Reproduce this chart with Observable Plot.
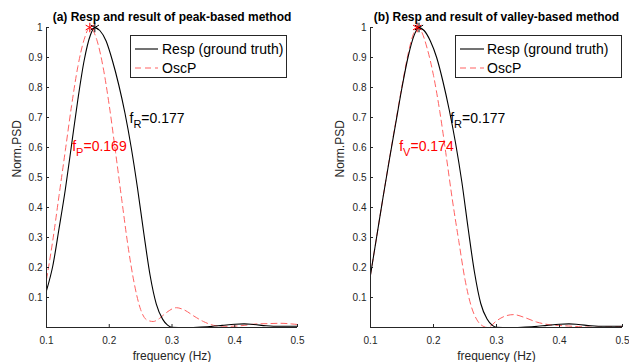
<!DOCTYPE html>
<html><head><meta charset="utf-8">
<script src="https://cdn.jsdelivr.net/npm/d3@7"></script>
<script src="https://cdn.jsdelivr.net/npm/@observablehq/plot@0.6"></script>
<style>
body{margin:0;background:#fff;}
#wrap{position:relative;width:629px;height:362px;overflow:hidden;font-family:"Liberation Sans",Arial,sans-serif;background:#fff;}
.panel{position:absolute;top:0;}
.legend{position:absolute;}
</style></head>
<body><div id="wrap"></div>
<script>
// ---------- data ----------
const titles = ["(a) Resp and result of peak-based method", "(b) Resp and result of valley-based method"];
const seriesNames = ["Resp (ground truth)", "OscP"];
const xLabel = "frequency (Hz)";
const yLabel = "Norm.PSD";
const xTicks = [0.1, 0.2, 0.3, 0.4, 0.5];
const yTicks = [0.1, 0.2, 0.3, 0.4, 0.5, 0.6, 0.7, 0.8, 0.9, 1];
const xDomain = [0.1, 0.5];
const yDomain = [0, 1];

// panel (a)
const freqRespA = [0.100,0.110,0.120,0.130,0.140,0.150,0.160,0.170,0.177,0.185,0.195,0.205,0.215,0.225,0.235,0.245,0.255,0.265,0.275,0.285,0.293,0.300,0.320,0.340,0.360,0.380,0.400,0.415,0.430,0.450,0.470,0.500];
const respA     = [0.123,0.205,0.330,0.460,0.610,0.760,0.890,0.975,1.000,0.990,0.955,0.890,0.810,0.715,0.600,0.465,0.315,0.175,0.078,0.028,0.008,0.001,0.000,0.001,0.003,0.007,0.011,0.012,0.010,0.006,0.004,0.004];
const freqOscA  = [0.100,0.110,0.120,0.130,0.140,0.150,0.160,0.169,0.180,0.190,0.200,0.210,0.220,0.230,0.240,0.250,0.260,0.270,0.280,0.290,0.307,0.320,0.335,0.350,0.370,0.390,0.410,0.436,0.455,0.473,0.490,0.500];
const oscA      = [0.160,0.290,0.440,0.590,0.740,0.870,0.960,1.000,0.960,0.870,0.740,0.585,0.425,0.270,0.145,0.060,0.025,0.020,0.030,0.048,0.066,0.058,0.038,0.020,0.006,0.004,0.006,0.012,0.013,0.014,0.012,0.010];

// panel (b)
const freqRespB = [0.100,0.110,0.120,0.130,0.140,0.150,0.160,0.170,0.177,0.185,0.195,0.205,0.215,0.225,0.235,0.245,0.255,0.265,0.275,0.285,0.293,0.300,0.320,0.340,0.360,0.380,0.400,0.415,0.430,0.450,0.470,0.500];
const respB     = [0.175,0.305,0.435,0.560,0.680,0.800,0.905,0.978,1.000,0.990,0.955,0.900,0.820,0.725,0.615,0.485,0.330,0.185,0.080,0.028,0.008,0.001,0.000,0.001,0.003,0.007,0.011,0.012,0.010,0.006,0.004,0.004];
const freqOscB  = [0.100,0.110,0.120,0.130,0.140,0.150,0.160,0.168,0.174,0.180,0.190,0.200,0.210,0.220,0.230,0.240,0.250,0.260,0.270,0.280,0.285,0.290,0.300,0.315,0.327,0.345,0.364,0.385,0.406,0.430,0.454,0.480,0.500];
const oscB      = [0.175,0.305,0.435,0.562,0.685,0.805,0.915,0.978,1.000,0.990,0.930,0.840,0.720,0.575,0.425,0.290,0.160,0.070,0.022,0.003,0.000,0.004,0.022,0.039,0.043,0.033,0.018,0.009,0.006,0.003,0.001,0.002,0.003];

// peak frequencies (star markers) and annotation texts
const peakRespA = 0.177, peakOscA = 0.169;
const peakRespB = 0.177, peakOscB = 0.174;
const noteTextsA = ["f_R=0.177", "f_P=0.169"];
const noteTextsB = ["f_R=0.177", "f_V=0.174"];
const noteXA = [0.2323, 0.141], noteYA = [0.695, 0.604];
const noteXB = [0.2265, 0.1456], noteYB = [0.695, 0.604];

// ---------- styles ----------
const RED_LINE = "#ff6262";
const RED = "#ff0000";
const AX = "#262626";
const FONT = "'Liberation Sans', Arial, Helvetica, sans-serif";
const fmt = d3.format("~g");

function zip(xs, ys) { return xs.map((x, i) => ({f: x, v: ys[i]})); }

function panel(o) {
  const resp = zip(o.fr, o.vr), osc = zip(o.fo, o.vo);
  const stars = o.stars;
  const notes = o.notes.map((t, i) => ({f: o.nx[i], v: o.ny[i], t, c: i === 0 ? "#000" : RED}));
  const svg = Plot.plot({
    width: o.width, height: 362,
    marginTop: 27, marginBottom: 35, marginLeft: o.ml, marginRight: o.mr,
    style: {fontFamily: FONT, fontSize: "10px", color: AX, background: "transparent", overflow: "visible"},
    x: {domain: xDomain},
    y: {domain: yDomain},
    marks: [
      Plot.line(osc, {x: "f", y: "v", stroke: RED_LINE, strokeWidth: 1, strokeDasharray: "6,4", curve: "monotone-x", clip: true}),
      Plot.line(resp, {x: "f", y: "v", stroke: "#000", strokeWidth: 1.1, curve: "monotone-x", clip: true}),
      Plot.dot(stars, {x: "f", y: "v", symbol: "asterisk", r: 4.5, stroke: "c", strokeWidth: 1}),
      Plot.text(notes, {x: "f", y: "v", text: "t", fill: "c", textAnchor: "start", lineAnchor: "middle", fontSize: 14}),
      Plot.ruleY([yDomain[0]], {stroke: AX}),
      Plot.ruleX([xDomain[0]], {stroke: AX}),
      Plot.axisX({ticks: xTicks, tickFormat: fmt, tickSize: -3, tickPadding: 12, fill: AX, stroke: AX, fontSize: 10, label: null}),
      Plot.axisY({ticks: yTicks, tickFormat: fmt, tickSize: -3, tickPadding: 7, fill: AX, stroke: AX, fontSize: 10, label: null}),
      Plot.text([xLabel], {text: d => d, frameAnchor: "bottom", lineAnchor: "bottom", dy: 32, fontSize: 12, fill: AX}),
      Plot.text([yLabel], {text: d => d, frameAnchor: "left", lineAnchor: "middle", rotate: -90, dx: o.ydx, fontSize: 12, fill: AX}),
      Plot.text([o.title], {text: d => d, frameAnchor: "top", lineAnchor: "bottom", dy: -7, fontWeight: "bold", fontSize: 12, fill: "#000"})
    ]
  });
  // subscripts for annotation texts
  svg.querySelectorAll("text").forEach(el => {
    const m = /^f_(\w)(=.*)$/.exec(el.textContent);
    if (!m) return;
    el.textContent = "";
    const ns = "http://www.w3.org/2000/svg";
    el.appendChild(document.createTextNode("f"));
    const s = document.createElementNS(ns, "tspan"); s.setAttribute("dy", "5"); s.setAttribute("font-size", "11"); s.textContent = m[1];
    const r = document.createElementNS(ns, "tspan"); r.setAttribute("dy", "-5"); r.textContent = m[2];
    el.appendChild(s); el.appendChild(r);
  });
  svg.classList.add("panel");
  svg.style.left = o.left + "px";
  return svg;
}

function legend(o) {
  const w = o.w, h = o.h;
  const div = document.createElement("div");
  div.className = "legend";
  div.style.left = o.left + "px"; div.style.top = o.top + "px";
  const svg = d3.create("svg").attr("width", w).attr("height", h);
  svg.append("rect").attr("x", 0.5).attr("y", 0.5).attr("width", w - 1).attr("height", h - 1)
    .attr("fill", "#fff").attr("stroke", AX).attr("stroke-width", 1);
  const styles = [{stroke: "#000", dash: null}, {stroke: RED_LINE, dash: "6,4"}];
  seriesNames.forEach((name, i) => {
    const cy = o.rows[i];
    svg.append("line").attr("x1", o.lx1).attr("x2", o.lx2).attr("y1", cy).attr("y2", cy)
      .attr("stroke", styles[i].stroke).attr("stroke-width", 1.1).attr("stroke-dasharray", styles[i].dash);
    svg.append("text").attr("x", o.tx).attr("y", cy).attr("dy", "0.35em")
      .attr("font-family", FONT).attr("font-size", 14).attr("fill", "#000").text(name);
  });
  div.appendChild(svg.node());
  return div;
}

const wrap = document.getElementById("wrap");
wrap.appendChild(panel({
  title: titles[0], width: 314, left: 0, ml: 46, mr: 17, ydx: -29,
  fr: freqRespA, vr: respA, fo: freqOscA, vo: oscA,
  stars: [{f: peakOscA, v: 1, c: RED}, {f: peakRespA, v: 1, c: "#000"}],
  notes: noteTextsA, nx: noteXA, ny: noteYA
}));
wrap.appendChild(panel({
  title: titles[1], width: 315, left: 314, ml: 56, mr: 7, ydx: -30,
  fr: freqRespB, vr: respB, fo: freqOscB, vo: oscB,
  stars: [{f: peakRespB, v: 1, c: "#000"}, {f: peakOscB, v: 1, c: RED}],
  notes: noteTextsB, nx: noteXB, ny: noteYB
}));
wrap.appendChild(legend({left: 130, top: 35, w: 157, h: 43, rows: [14, 33], lx1: 5, lx2: 28, tx: 32}));
wrap.appendChild(legend({left: 455, top: 35, w: 167, h: 43, rows: [14, 33], lx1: 5, lx2: 29, tx: 32}));
</script>
</body></html>
